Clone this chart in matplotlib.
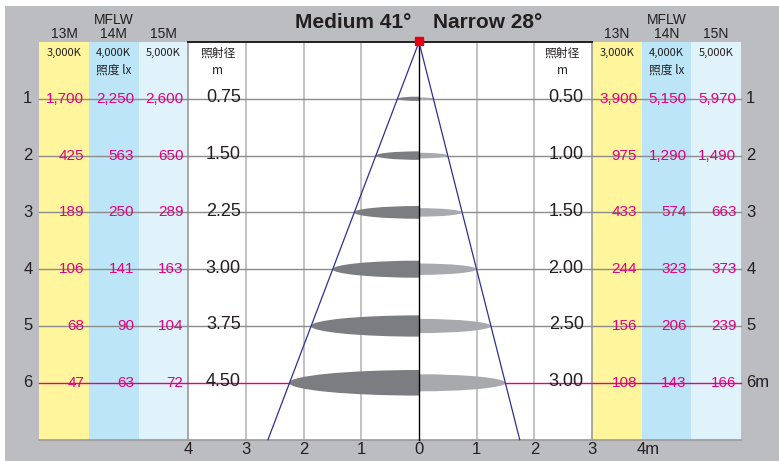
import matplotlib
matplotlib.use("Agg")
import numpy as np
import matplotlib.pyplot as plt
from matplotlib.patches import Rectangle, Ellipse

# 照度データ (lx) 距離 1..6 m
distances = [1, 2, 3, 4, 5, 6]
medium_3000k = [1700, 425, 189, 106, 68, 47]
medium_4000k = [2250, 563, 250, 141, 90, 63]
medium_5000k = [2600, 650, 289, 163, 104, 72]
medium_diam = [0.75, 1.50, 2.25, 3.00, 3.75, 4.50]
narrow_diam = [0.50, 1.00, 1.50, 2.00, 2.50, 3.00]
narrow_3000k = [3900, 975, 433, 244, 156, 108]
narrow_4000k = [5150, 1290, 574, 323, 206, 143]
narrow_5000k = [5970, 1490, 663, 373, 239, 166]
medium_angle = 41
narrow_angle = 28
left_ticks = [4, 3, 2, 1]
right_ticks = [1, 2, 3]
medium_models = ["13M", "14M", "15M"]
narrow_models = ["13N", "14N", "15N"]
color_temps = ["3,000K", "4,000K", "5,000K"]

GRAY_BG = "#bcbdc0"
COL_COLORS = ["#fff59d", "#bce5f8", "#e0f3fb"]
MAGENTA = "#e4007f"
DARK = "#231f20"
BEAM = "#2e3192"

JP = ["Noto Sans CJK JP", "DejaVu Sans"]
SANS = ["Liberation Sans", "DejaVu Sans"]

fig = plt.figure(figsize=(7.79, 4.61), dpi=100)
fig.patch.set_facecolor("white")
ax = fig.add_axes([0, 0, 1, 1])
# 1 m = 57.7 px horizontal, 56.8 px vertical
ax.set_xlim(-419 / 57.7, 360 / 57.7)
ax.set_ylim(419 / 56.8, -42 / 56.8)
ax.axis("off")

# grey background panel
ax.add_patch(Rectangle((-7.175, -0.634), 20, 20, facecolor=GRAY_BG, edgecolor="none", zorder=0))

col_w = 0.86
bottom = 7
left_edge = -4
right_edge = 3
left_cols = [left_edge - col_w * (3 - i) for i in range(3)]
right_cols = [right_edge + col_w * i for i in range(3)]

# white beam area + colour columns
ax.add_patch(Rectangle((left_edge, 0), right_edge - left_edge, bottom, facecolor="white",
                       edgecolor="none", zorder=1))
for x0, c in zip(left_cols, COL_COLORS):
    ax.add_patch(Rectangle((x0, 0), col_w, bottom, facecolor=c, edgecolor="none", zorder=1))
for x0, c in zip(right_cols, COL_COLORS):
    ax.add_patch(Rectangle((x0, 0), col_w, bottom, facecolor=c, edgecolor="none", zorder=1))

# vertical grid lines
for t in [-3, -2, -1, 1, 2]:
    ax.plot([t, t], [0, bottom], color="#c2c2c2", lw=1.4, zorder=2)
for t in [left_edge, right_edge]:
    ax.plot([t, t], [0, bottom], color="#9a9a9a", lw=1.2, zorder=2)
ax.plot([0, 0], [0, bottom], color="black", lw=1.0, zorder=5)
ax.plot([left_edge, right_edge], [0, 0], color=DARK, lw=1.4, zorder=3)
ax.plot([left_cols[0], right_cols[-1] + col_w], [bottom, bottom], color="#9a9a9a", lw=1.2, zorder=3)

# row lines
for d in distances:
    lc = MAGENTA if d == distances[-1] else "#8c8c8c"
    ax.plot([left_cols[0], right_cols[-1] + col_w], [d, d], color=lc, lw=1.0, zorder=3)

# light spots (half ellipses)
left_clip = Rectangle((-10, -1), 10, 10, transform=ax.transData)
right_clip = Rectangle((0, -1), 10, 10, transform=ax.transData)
for d, dm, dn in zip(distances, medium_diam, narrow_diam):
    em = Ellipse((0, d), dm, 0.1 * dm, facecolor="#7c7d81", edgecolor="none", zorder=4)
    ax.add_patch(em)
    em.set_clip_path(left_clip)
    en = Ellipse((0, d), dn, 0.1 * dn, facecolor="#a8a9ac", edgecolor="none", zorder=4)
    ax.add_patch(en)
    en.set_clip_path(right_clip)

# beam lines
tm = np.tan(np.radians(medium_angle / 2))
tn = np.tan(np.radians(narrow_angle / 2))
ax.plot([0, -tm * bottom], [0, bottom], color=BEAM, lw=0.9, zorder=6)
ax.plot([0, tn * bottom], [0, bottom], color=BEAM, lw=0.9, zorder=6)
ax.plot([0], [-0.02], marker="s", color="#e60012", markersize=5.5, zorder=7, clip_on=False)

# title
ax.text(-1.14, -0.34, f"Medium {medium_angle}°", ha="center", va="center", fontsize=15,
        fontweight="bold", color=DARK, family=SANS, zorder=8)
ax.text(1.19, -0.34, f"Narrow {narrow_angle}°", ha="center", va="center", fontsize=15,
        fontweight="bold", color=DARK, family=SANS, zorder=8)

# column headers
for cols, models in [(left_cols, medium_models), (right_cols, narrow_models)]:
    for i, (x0, m) in enumerate(zip(cols, models)):
        cx = x0 + col_w / 2
        ax.text(cx, -0.14, m, ha="center", va="center", fontsize=10, color=DARK, family=SANS)
        ax.text(cx, 0.19, color_temps[i], ha="center", va="center", fontsize=8, color=DARK, family=JP)
    mid = cols[1] + col_w / 2
    ax.text(mid, -0.39, "MFLW", ha="center", va="center", fontsize=10, color=DARK, family=SANS)
    ax.text(mid, 0.5, "照度 lx", ha="center", va="center", fontsize=8.5, color=DARK, family=JP)

for cx in [-3.49, 2.48]:
    ax.text(cx, 0.19, "照射径", ha="center", va="center", fontsize=8.5, color=DARK, family=JP)
    ax.text(cx, 0.51, "m", ha="center", va="center", fontsize=8.5, color=DARK, family=JP)

# values
pad = 0.08
for series, x0 in zip([medium_3000k, medium_4000k, medium_5000k], left_cols):
    for d, v in zip(distances, series):
        ax.text(x0 + col_w - pad, d, f"{v:,}", ha="right", va="center", fontsize=11,
                color=MAGENTA, family=SANS, zorder=8)
for series, x0 in zip([narrow_3000k, narrow_4000k, narrow_5000k], right_cols):
    for d, v in zip(distances, series):
        ax.text(x0 + col_w - pad, d, f"{v:,}", ha="right", va="center", fontsize=11,
                color=MAGENTA, family=SANS, zorder=8)
for d, dm, dn in zip(distances, medium_diam, narrow_diam):
    ax.text(-3.39, d - 0.02, f"{dm:.2f}", ha="center", va="center", fontsize=13,
            color=DARK, family=SANS, zorder=8)
    ax.text(2.55, d - 0.02, f"{dn:.2f}", ha="center", va="center", fontsize=13,
            color=DARK, family=SANS, zorder=8)

# row labels
for d in distances:
    ax.text(-6.78, d, str(d), ha="center", va="center", fontsize=12, color=DARK, family=SANS)
    lbl = f"{d}m" if d == distances[-1] else str(d)
    ax.text(5.67, d, lbl, ha="left", va="center", fontsize=12, color=DARK, family=SANS)

# bottom ticks
for t in left_ticks:
    ax.text(-t, 7.17, str(t), ha="center", va="center", fontsize=12, color=DARK, family=SANS)
ax.text(0, 7.17, "0", ha="center", va="center", fontsize=12, color=DARK, family=SANS)
for t in right_ticks:
    ax.text(t, 7.17, str(t), ha="center", va="center", fontsize=12, color=DARK, family=SANS)
ax.text(3.78, 7.17, "4m", ha="left", va="center", fontsize=12, color=DARK, family=SANS)

# cut-off heading at the very top (only its lower edge shows)
fig.text(0.003, 1.018, "● 配光・照度", ha="left", va="center", fontsize=17,
         color=DARK, family=JP)

fig.savefig("out.png", dpi=100)
